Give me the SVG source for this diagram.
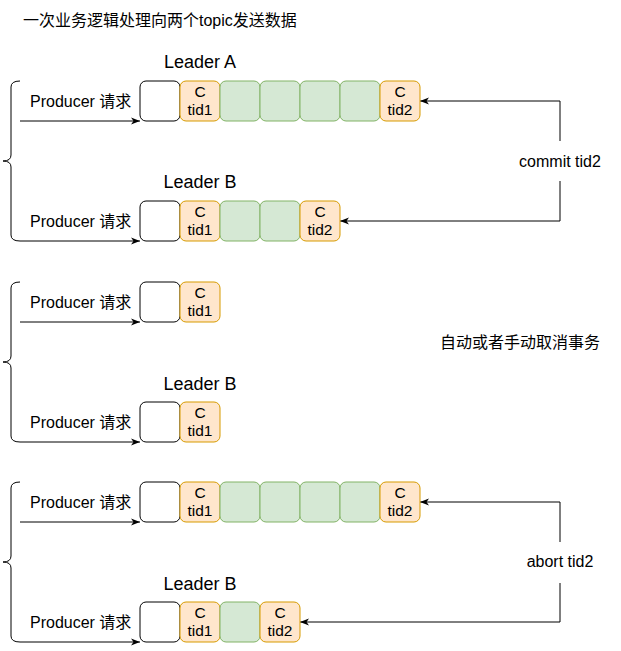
<svg xmlns="http://www.w3.org/2000/svg" width="621" height="651" viewBox="0 0 621 651">
<style>
text{font-family:"Liberation Sans","Noto Sans CJK SC",sans-serif;fill:#000}
.lbl{font-size:16px}
.ldr{font-size:18px;text-anchor:middle}
.bx{font-size:15.5px;text-anchor:middle}
.w{fill:#fff;stroke:#000;stroke-width:1}
.o{fill:#ffe6cc;stroke:#d79b00;stroke-width:1}
.g{fill:#d5e8d4;stroke:#82b366;stroke-width:1}
.ln{fill:none;stroke:#000;stroke-width:1}
</style>
<defs>
<marker id="ah" markerUnits="userSpaceOnUse" markerWidth="10" markerHeight="10" viewBox="0 0 10 10" refX="9" refY="5" orient="auto">
<path d="M0,1.5 L9,5 L0,8.5 L2.5,5 z" fill="#000"/>
</marker>
</defs>
<rect width="621" height="651" fill="#fff"/>

<g id="title"><text class="lbl" x="23" y="26">一次业务逻辑处理向两个topic发送数据</text></g>

<g id="connectors">
<!-- section 1 -->
<path class="ln" d="M20,81 Q11,81 11,87 L11,155 Q11,161 3,161 Q11,161 11,167 L11,235 Q11,241 20,241"/>
<path class="ln" d="M20,121 L140,121" marker-end="url(#ah)"/>
<path class="ln" d="M20,241 L140,241" marker-end="url(#ah)"/>
<path class="ln" d="M560,141 L560,101 L420,101" marker-end="url(#ah)"/>
<path class="ln" d="M560,181 L560,221 L340,221" marker-end="url(#ah)"/>
<!-- section 2 -->
<path class="ln" d="M20,282 Q11,282 11,288 L11,356 Q11,362 3,362 Q11,362 11,368 L11,436 Q11,442 20,442"/>
<path class="ln" d="M20,322 L140,322" marker-end="url(#ah)"/>
<path class="ln" d="M20,442 L140,442" marker-end="url(#ah)"/>
<!-- section 3 -->
<path class="ln" d="M20,482 Q11,482 11,488 L11,556 Q11,562 3,562 Q11,562 11,568 L11,636 Q11,642 20,642"/>
<path class="ln" d="M20,522 L140,522" marker-end="url(#ah)"/>
<path class="ln" d="M20,642 L140,642" marker-end="url(#ah)"/>
<path class="ln" d="M560,542 L560,502 L420,502" marker-end="url(#ah)"/>
<path class="ln" d="M560,583 L560,622 L300,622" marker-end="url(#ah)"/>
</g>

<g id="labels">
<text class="lbl" x="30" y="107">Producer 请求</text>
<text class="lbl" x="30" y="227">Producer 请求</text>
<text class="lbl" x="30" y="307.5">Producer 请求</text>
<text class="lbl" x="30" y="427.5">Producer 请求</text>
<text class="lbl" x="30" y="507.5">Producer 请求</text>
<text class="lbl" x="30" y="627.5">Producer 请求</text>
<text class="ldr" x="200" y="68">Leader A</text>
<text class="ldr" x="200" y="188">Leader B</text>
<text class="ldr" x="200" y="389.5">Leader B</text>
<text class="ldr" x="200" y="589.5">Leader B</text>
<text class="lbl" x="560" y="166.5" text-anchor="middle">commit tid2</text>
<text class="lbl" x="520" y="347.5" text-anchor="middle">自动或者手动取消事务</text>
<text class="lbl" x="560" y="567" text-anchor="middle">abort tid2</text>
</g>

<!-- section 1 row A -->
<g id="s1a-w"><rect class="w" x="140" y="81" width="40" height="40" rx="6"/></g>
<g id="s1a-c1"><rect class="o" x="180" y="81" width="40" height="40" rx="6"/><text class="bx" x="200" y="96.5">C</text><text class="bx" x="200" y="114.5">tid1</text></g>
<g id="s1a-g1"><rect class="g" x="220" y="81" width="40" height="40" rx="6"/></g>
<g id="s1a-g2"><rect class="g" x="260" y="81" width="40" height="40" rx="6"/></g>
<g id="s1a-g3"><rect class="g" x="300" y="81" width="40" height="40" rx="6"/></g>
<g id="s1a-g4"><rect class="g" x="340" y="81" width="40" height="40" rx="6"/></g>
<g id="s1a-c2"><rect class="o" x="380" y="81" width="40" height="40" rx="6"/><text class="bx" x="400" y="96.5">C</text><text class="bx" x="400" y="114.5">tid2</text></g>
<!-- section 1 row B -->
<g id="s1b-w"><rect class="w" x="140" y="201" width="40" height="40" rx="6"/></g>
<g id="s1b-c1"><rect class="o" x="180" y="201" width="40" height="40" rx="6"/><text class="bx" x="200" y="216.5">C</text><text class="bx" x="200" y="234.5">tid1</text></g>
<g id="s1b-g1"><rect class="g" x="220" y="201" width="40" height="40" rx="6"/></g>
<g id="s1b-g2"><rect class="g" x="260" y="201" width="40" height="40" rx="6"/></g>
<g id="s1b-c2"><rect class="o" x="300" y="201" width="40" height="40" rx="6"/><text class="bx" x="320" y="216.5">C</text><text class="bx" x="320" y="234.5">tid2</text></g>
<!-- section 2 -->
<g id="s2a-w"><rect class="w" x="140" y="282" width="40" height="40" rx="6"/></g>
<g id="s2a-c1"><rect class="o" x="180" y="282" width="40" height="40" rx="6"/><text class="bx" x="200" y="297.5">C</text><text class="bx" x="200" y="315.5">tid1</text></g>
<g id="s2b-w"><rect class="w" x="140" y="402" width="40" height="40" rx="6"/></g>
<g id="s2b-c1"><rect class="o" x="180" y="402" width="40" height="40" rx="6"/><text class="bx" x="200" y="417.5">C</text><text class="bx" x="200" y="435.5">tid1</text></g>
<!-- section 3 row A -->
<g id="s3a-w"><rect class="w" x="140" y="482" width="40" height="40" rx="6"/></g>
<g id="s3a-c1"><rect class="o" x="180" y="482" width="40" height="40" rx="6"/><text class="bx" x="200" y="497.5">C</text><text class="bx" x="200" y="515.5">tid1</text></g>
<g id="s3a-g1"><rect class="g" x="220" y="482" width="40" height="40" rx="6"/></g>
<g id="s3a-g2"><rect class="g" x="260" y="482" width="40" height="40" rx="6"/></g>
<g id="s3a-g3"><rect class="g" x="300" y="482" width="40" height="40" rx="6"/></g>
<g id="s3a-g4"><rect class="g" x="340" y="482" width="40" height="40" rx="6"/></g>
<g id="s3a-c2"><rect class="o" x="380" y="482" width="40" height="40" rx="6"/><text class="bx" x="400" y="497.5">C</text><text class="bx" x="400" y="515.5">tid2</text></g>
<!-- section 3 row B -->
<g id="s3b-w"><rect class="w" x="140" y="602" width="40" height="40" rx="6"/></g>
<g id="s3b-c1"><rect class="o" x="180" y="602" width="40" height="40" rx="6"/><text class="bx" x="200" y="617.5">C</text><text class="bx" x="200" y="635.5">tid1</text></g>
<g id="s3b-g1"><rect class="g" x="220" y="602" width="40" height="40" rx="6"/></g>
<g id="s3b-c2"><rect class="o" x="260" y="602" width="40" height="40" rx="6"/><text class="bx" x="280" y="617.5">C</text><text class="bx" x="280" y="635.5">tid2</text></g>
</svg>
